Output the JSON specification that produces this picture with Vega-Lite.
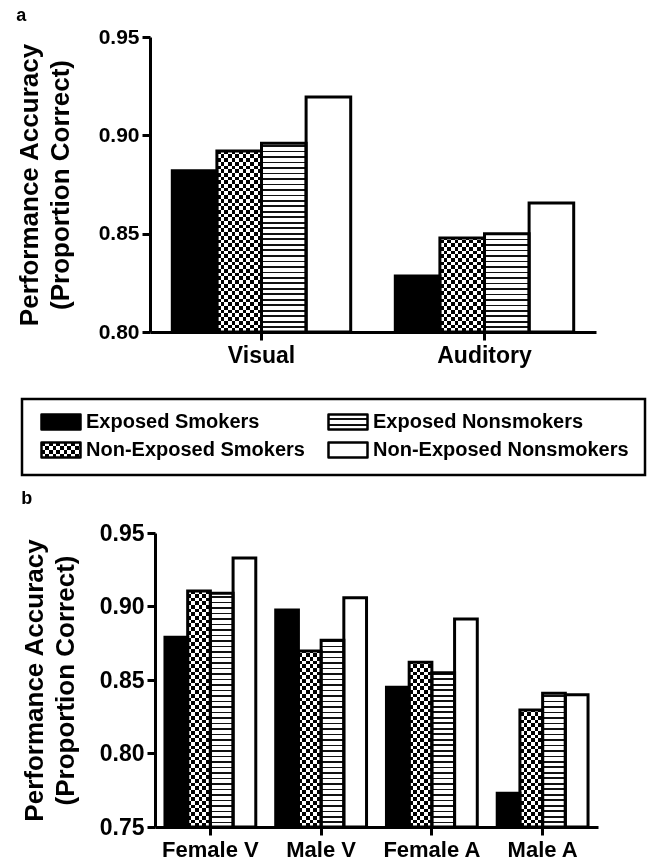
{
"$schema": "https://vega.github.io/schema/vega-lite/v6.json",
"background": "white",
"padding": {"left": 16, "top": 7, "right": 0, "bottom": 0},
"params": [
{"name": "hs", "value": [
{"offset":0,"color":"#fff"},{"offset":0.014,"color":"#fff"},{"offset":0.014,"color":"#111"},{"offset":0.02,"color":"#111"},
{"offset":0.02,"color":"#fff"},{"offset":0.034,"color":"#fff"},{"offset":0.034,"color":"#111"},{"offset":0.04,"color":"#111"},
{"offset":0.04,"color":"#fff"},{"offset":0.054,"color":"#fff"},{"offset":0.054,"color":"#111"},{"offset":0.06,"color":"#111"},
{"offset":0.06,"color":"#fff"},{"offset":0.074,"color":"#fff"},{"offset":0.074,"color":"#111"},{"offset":0.08,"color":"#111"},
{"offset":0.08,"color":"#fff"},{"offset":0.094,"color":"#fff"},{"offset":0.094,"color":"#111"},{"offset":0.1,"color":"#111"},
{"offset":0.1,"color":"#fff"},{"offset":0.114,"color":"#fff"},{"offset":0.114,"color":"#111"},{"offset":0.12,"color":"#111"},
{"offset":0.12,"color":"#fff"},{"offset":0.134,"color":"#fff"},{"offset":0.134,"color":"#111"},{"offset":0.14,"color":"#111"},
{"offset":0.14,"color":"#fff"},{"offset":0.154,"color":"#fff"},{"offset":0.154,"color":"#111"},{"offset":0.16,"color":"#111"},
{"offset":0.16,"color":"#fff"},{"offset":0.174,"color":"#fff"},{"offset":0.174,"color":"#111"},{"offset":0.18,"color":"#111"},
{"offset":0.18,"color":"#fff"},{"offset":0.194,"color":"#fff"},{"offset":0.194,"color":"#111"},{"offset":0.2,"color":"#111"},
{"offset":0.2,"color":"#fff"},{"offset":0.214,"color":"#fff"},{"offset":0.214,"color":"#111"},{"offset":0.22,"color":"#111"},
{"offset":0.22,"color":"#fff"},{"offset":0.234,"color":"#fff"},{"offset":0.234,"color":"#111"},{"offset":0.24,"color":"#111"},
{"offset":0.24,"color":"#fff"},{"offset":0.254,"color":"#fff"},{"offset":0.254,"color":"#111"},{"offset":0.26,"color":"#111"},
{"offset":0.26,"color":"#fff"},{"offset":0.274,"color":"#fff"},{"offset":0.274,"color":"#111"},{"offset":0.28,"color":"#111"},
{"offset":0.28,"color":"#fff"},{"offset":0.294,"color":"#fff"},{"offset":0.294,"color":"#111"},{"offset":0.3,"color":"#111"},
{"offset":0.3,"color":"#fff"},{"offset":0.314,"color":"#fff"},{"offset":0.314,"color":"#111"},{"offset":0.32,"color":"#111"},
{"offset":0.32,"color":"#fff"},{"offset":0.334,"color":"#fff"},{"offset":0.334,"color":"#111"},{"offset":0.34,"color":"#111"},
{"offset":0.34,"color":"#fff"},{"offset":0.354,"color":"#fff"},{"offset":0.354,"color":"#111"},{"offset":0.36,"color":"#111"},
{"offset":0.36,"color":"#fff"},{"offset":0.374,"color":"#fff"},{"offset":0.374,"color":"#111"},{"offset":0.38,"color":"#111"},
{"offset":0.38,"color":"#fff"},{"offset":0.394,"color":"#fff"},{"offset":0.394,"color":"#111"},{"offset":0.4,"color":"#111"},
{"offset":0.4,"color":"#fff"},{"offset":0.414,"color":"#fff"},{"offset":0.414,"color":"#111"},{"offset":0.42,"color":"#111"},
{"offset":0.42,"color":"#fff"},{"offset":0.434,"color":"#fff"},{"offset":0.434,"color":"#111"},{"offset":0.44,"color":"#111"},
{"offset":0.44,"color":"#fff"},{"offset":0.454,"color":"#fff"},{"offset":0.454,"color":"#111"},{"offset":0.46,"color":"#111"},
{"offset":0.46,"color":"#fff"},{"offset":0.474,"color":"#fff"},{"offset":0.474,"color":"#111"},{"offset":0.48,"color":"#111"},
{"offset":0.48,"color":"#fff"},{"offset":0.494,"color":"#fff"},{"offset":0.494,"color":"#111"},{"offset":0.5,"color":"#111"},
{"offset":0.5,"color":"#fff"},{"offset":0.514,"color":"#fff"},{"offset":0.514,"color":"#111"},{"offset":0.52,"color":"#111"},
{"offset":0.52,"color":"#fff"},{"offset":0.534,"color":"#fff"},{"offset":0.534,"color":"#111"},{"offset":0.54,"color":"#111"},
{"offset":0.54,"color":"#fff"},{"offset":0.554,"color":"#fff"},{"offset":0.554,"color":"#111"},{"offset":0.56,"color":"#111"},
{"offset":0.56,"color":"#fff"},{"offset":0.574,"color":"#fff"},{"offset":0.574,"color":"#111"},{"offset":0.58,"color":"#111"},
{"offset":0.58,"color":"#fff"},{"offset":0.594,"color":"#fff"},{"offset":0.594,"color":"#111"},{"offset":0.6,"color":"#111"},
{"offset":0.6,"color":"#fff"},{"offset":0.614,"color":"#fff"},{"offset":0.614,"color":"#111"},{"offset":0.62,"color":"#111"},
{"offset":0.62,"color":"#fff"},{"offset":0.634,"color":"#fff"},{"offset":0.634,"color":"#111"},{"offset":0.64,"color":"#111"},
{"offset":0.64,"color":"#fff"},{"offset":0.654,"color":"#fff"},{"offset":0.654,"color":"#111"},{"offset":0.66,"color":"#111"},
{"offset":0.66,"color":"#fff"},{"offset":0.674,"color":"#fff"},{"offset":0.674,"color":"#111"},{"offset":0.68,"color":"#111"},
{"offset":0.68,"color":"#fff"},{"offset":0.694,"color":"#fff"},{"offset":0.694,"color":"#111"},{"offset":0.7,"color":"#111"},
{"offset":0.7,"color":"#fff"},{"offset":0.714,"color":"#fff"},{"offset":0.714,"color":"#111"},{"offset":0.72,"color":"#111"},
{"offset":0.72,"color":"#fff"},{"offset":0.734,"color":"#fff"},{"offset":0.734,"color":"#111"},{"offset":0.74,"color":"#111"},
{"offset":0.74,"color":"#fff"},{"offset":0.754,"color":"#fff"},{"offset":0.754,"color":"#111"},{"offset":0.76,"color":"#111"},
{"offset":0.76,"color":"#fff"},{"offset":0.774,"color":"#fff"},{"offset":0.774,"color":"#111"},{"offset":0.78,"color":"#111"},
{"offset":0.78,"color":"#fff"},{"offset":0.794,"color":"#fff"},{"offset":0.794,"color":"#111"},{"offset":0.8,"color":"#111"},
{"offset":0.8,"color":"#fff"},{"offset":0.814,"color":"#fff"},{"offset":0.814,"color":"#111"},{"offset":0.82,"color":"#111"},
{"offset":0.82,"color":"#fff"},{"offset":0.834,"color":"#fff"},{"offset":0.834,"color":"#111"},{"offset":0.84,"color":"#111"},
{"offset":0.84,"color":"#fff"},{"offset":0.854,"color":"#fff"},{"offset":0.854,"color":"#111"},{"offset":0.86,"color":"#111"},
{"offset":0.86,"color":"#fff"},{"offset":0.874,"color":"#fff"},{"offset":0.874,"color":"#111"},{"offset":0.88,"color":"#111"},
{"offset":0.88,"color":"#fff"},{"offset":0.894,"color":"#fff"},{"offset":0.894,"color":"#111"},{"offset":0.9,"color":"#111"},
{"offset":0.9,"color":"#fff"},{"offset":0.914,"color":"#fff"},{"offset":0.914,"color":"#111"},{"offset":0.92,"color":"#111"},
{"offset":0.92,"color":"#fff"},{"offset":0.934,"color":"#fff"},{"offset":0.934,"color":"#111"},{"offset":0.94,"color":"#111"},
{"offset":0.94,"color":"#fff"},{"offset":0.954,"color":"#fff"},{"offset":0.954,"color":"#111"},{"offset":0.96,"color":"#111"},
{"offset":0.96,"color":"#fff"},{"offset":0.974,"color":"#fff"},{"offset":0.974,"color":"#111"},{"offset":0.98,"color":"#111"},
{"offset":0.98,"color":"#fff"},{"offset":0.994,"color":"#fff"},{"offset":0.994,"color":"#111"},{"offset":1,"color":"#111"}
]},
{"name": "cs", "value": [
{"offset":0,"color":"#000"},{"offset":0.0125,"color":"#000"},{"offset":0.0125,"color":"#fff"},{"offset":0.025,"color":"#fff"},
{"offset":0.025,"color":"#000"},{"offset":0.0375,"color":"#000"},{"offset":0.0375,"color":"#fff"},{"offset":0.05,"color":"#fff"},
{"offset":0.05,"color":"#000"},{"offset":0.0625,"color":"#000"},{"offset":0.0625,"color":"#fff"},{"offset":0.075,"color":"#fff"},
{"offset":0.075,"color":"#000"},{"offset":0.0875,"color":"#000"},{"offset":0.0875,"color":"#fff"},{"offset":0.1,"color":"#fff"},
{"offset":0.1,"color":"#000"},{"offset":0.1125,"color":"#000"},{"offset":0.1125,"color":"#fff"},{"offset":0.125,"color":"#fff"},
{"offset":0.125,"color":"#000"},{"offset":0.1375,"color":"#000"},{"offset":0.1375,"color":"#fff"},{"offset":0.15,"color":"#fff"},
{"offset":0.15,"color":"#000"},{"offset":0.1625,"color":"#000"},{"offset":0.1625,"color":"#fff"},{"offset":0.175,"color":"#fff"},
{"offset":0.175,"color":"#000"},{"offset":0.1875,"color":"#000"},{"offset":0.1875,"color":"#fff"},{"offset":0.2,"color":"#fff"},
{"offset":0.2,"color":"#000"},{"offset":0.2125,"color":"#000"},{"offset":0.2125,"color":"#fff"},{"offset":0.225,"color":"#fff"},
{"offset":0.225,"color":"#000"},{"offset":0.2375,"color":"#000"},{"offset":0.2375,"color":"#fff"},{"offset":0.25,"color":"#fff"},
{"offset":0.25,"color":"#000"},{"offset":0.2625,"color":"#000"},{"offset":0.2625,"color":"#fff"},{"offset":0.275,"color":"#fff"},
{"offset":0.275,"color":"#000"},{"offset":0.2875,"color":"#000"},{"offset":0.2875,"color":"#fff"},{"offset":0.3,"color":"#fff"},
{"offset":0.3,"color":"#000"},{"offset":0.3125,"color":"#000"},{"offset":0.3125,"color":"#fff"},{"offset":0.325,"color":"#fff"},
{"offset":0.325,"color":"#000"},{"offset":0.3375,"color":"#000"},{"offset":0.3375,"color":"#fff"},{"offset":0.35,"color":"#fff"},
{"offset":0.35,"color":"#000"},{"offset":0.3625,"color":"#000"},{"offset":0.3625,"color":"#fff"},{"offset":0.375,"color":"#fff"},
{"offset":0.375,"color":"#000"},{"offset":0.3875,"color":"#000"},{"offset":0.3875,"color":"#fff"},{"offset":0.4,"color":"#fff"},
{"offset":0.4,"color":"#000"},{"offset":0.4125,"color":"#000"},{"offset":0.4125,"color":"#fff"},{"offset":0.425,"color":"#fff"},
{"offset":0.425,"color":"#000"},{"offset":0.4375,"color":"#000"},{"offset":0.4375,"color":"#fff"},{"offset":0.45,"color":"#fff"},
{"offset":0.45,"color":"#000"},{"offset":0.4625,"color":"#000"},{"offset":0.4625,"color":"#fff"},{"offset":0.475,"color":"#fff"},
{"offset":0.475,"color":"#000"},{"offset":0.4875,"color":"#000"},{"offset":0.4875,"color":"#fff"},{"offset":0.5,"color":"#fff"},
{"offset":0.5,"color":"#000"},{"offset":0.5125,"color":"#000"},{"offset":0.5125,"color":"#fff"},{"offset":0.525,"color":"#fff"},
{"offset":0.525,"color":"#000"},{"offset":0.5375,"color":"#000"},{"offset":0.5375,"color":"#fff"},{"offset":0.55,"color":"#fff"},
{"offset":0.55,"color":"#000"},{"offset":0.5625,"color":"#000"},{"offset":0.5625,"color":"#fff"},{"offset":0.575,"color":"#fff"},
{"offset":0.575,"color":"#000"},{"offset":0.5875,"color":"#000"},{"offset":0.5875,"color":"#fff"},{"offset":0.6,"color":"#fff"},
{"offset":0.6,"color":"#000"},{"offset":0.6125,"color":"#000"},{"offset":0.6125,"color":"#fff"},{"offset":0.625,"color":"#fff"},
{"offset":0.625,"color":"#000"},{"offset":0.6375,"color":"#000"},{"offset":0.6375,"color":"#fff"},{"offset":0.65,"color":"#fff"},
{"offset":0.65,"color":"#000"},{"offset":0.6625,"color":"#000"},{"offset":0.6625,"color":"#fff"},{"offset":0.675,"color":"#fff"},
{"offset":0.675,"color":"#000"},{"offset":0.6875,"color":"#000"},{"offset":0.6875,"color":"#fff"},{"offset":0.7,"color":"#fff"},
{"offset":0.7,"color":"#000"},{"offset":0.7125,"color":"#000"},{"offset":0.7125,"color":"#fff"},{"offset":0.725,"color":"#fff"},
{"offset":0.725,"color":"#000"},{"offset":0.7375,"color":"#000"},{"offset":0.7375,"color":"#fff"},{"offset":0.75,"color":"#fff"},
{"offset":0.75,"color":"#000"},{"offset":0.7625,"color":"#000"},{"offset":0.7625,"color":"#fff"},{"offset":0.775,"color":"#fff"},
{"offset":0.775,"color":"#000"},{"offset":0.7875,"color":"#000"},{"offset":0.7875,"color":"#fff"},{"offset":0.8,"color":"#fff"},
{"offset":0.8,"color":"#000"},{"offset":0.8125,"color":"#000"},{"offset":0.8125,"color":"#fff"},{"offset":0.825,"color":"#fff"},
{"offset":0.825,"color":"#000"},{"offset":0.8375,"color":"#000"},{"offset":0.8375,"color":"#fff"},{"offset":0.85,"color":"#fff"},
{"offset":0.85,"color":"#000"},{"offset":0.8625,"color":"#000"},{"offset":0.8625,"color":"#fff"},{"offset":0.875,"color":"#fff"},
{"offset":0.875,"color":"#000"},{"offset":0.8875,"color":"#000"},{"offset":0.8875,"color":"#fff"},{"offset":0.9,"color":"#fff"},
{"offset":0.9,"color":"#000"},{"offset":0.9125,"color":"#000"},{"offset":0.9125,"color":"#fff"},{"offset":0.925,"color":"#fff"},
{"offset":0.925,"color":"#000"},{"offset":0.9375,"color":"#000"},{"offset":0.9375,"color":"#fff"},{"offset":0.95,"color":"#fff"},
{"offset":0.95,"color":"#000"},{"offset":0.9625,"color":"#000"},{"offset":0.9625,"color":"#fff"},{"offset":0.975,"color":"#fff"},
{"offset":0.975,"color":"#000"},{"offset":0.9875,"color":"#000"},{"offset":0.9875,"color":"#fff"},{"offset":1,"color":"#fff"}
]}
],
"datasets": {
"A": [
{"cond":"Visual","group":"Exposed Smokers","acc":0.882},
{"cond":"Visual","group":"Non-Exposed Smokers","acc":0.892},
{"cond":"Visual","group":"Exposed Nonsmokers","acc":0.896},
{"cond":"Visual","group":"Non-Exposed Nonsmokers","acc":0.9195},
{"cond":"Auditory","group":"Exposed Smokers","acc":0.8285},
{"cond":"Auditory","group":"Non-Exposed Smokers","acc":0.8478},
{"cond":"Auditory","group":"Exposed Nonsmokers","acc":0.850},
{"cond":"Auditory","group":"Non-Exposed Nonsmokers","acc":0.8656}
],
"B": [
{"cond":"Female V","group":"Exposed Smokers","acc":0.879},
{"cond":"Female V","group":"Non-Exposed Smokers","acc":0.9105},
{"cond":"Female V","group":"Exposed Nonsmokers","acc":0.909},
{"cond":"Female V","group":"Non-Exposed Nonsmokers","acc":0.933},
{"cond":"Male V","group":"Exposed Smokers","acc":0.8976},
{"cond":"Male V","group":"Non-Exposed Smokers","acc":0.8697},
{"cond":"Male V","group":"Exposed Nonsmokers","acc":0.877},
{"cond":"Male V","group":"Non-Exposed Nonsmokers","acc":0.906},
{"cond":"Female A","group":"Exposed Smokers","acc":0.845},
{"cond":"Female A","group":"Non-Exposed Smokers","acc":0.862},
{"cond":"Female A","group":"Exposed Nonsmokers","acc":0.855},
{"cond":"Female A","group":"Non-Exposed Nonsmokers","acc":0.8915},
{"cond":"Male A","group":"Exposed Smokers","acc":0.773},
{"cond":"Male A","group":"Non-Exposed Smokers","acc":0.8296},
{"cond":"Male A","group":"Exposed Nonsmokers","acc":0.841},
{"cond":"Male A","group":"Non-Exposed Nonsmokers","acc":0.840}
],
"L": [
{"group":"Exposed Smokers","smoke":"Smokers","exposure":"Exposed"},
{"group":"Non-Exposed Smokers","smoke":"Smokers","exposure":"Non-Exposed"},
{"group":"Exposed Nonsmokers","smoke":"Nonsmokers","exposure":"Exposed"},
{"group":"Non-Exposed Nonsmokers","smoke":"Nonsmokers","exposure":"Non-Exposed"}
]
},
"config": {
"font": "Liberation Sans",
"view": {"stroke": null},
"axis": {"domainColor":"black","domainWidth":3,"tickColor":"black","tickWidth":3,"tickSize":8,"labelColor":"black","labelFont":"Liberation Sans","labelFontWeight":"bold","titleColor":"black","titleFont":"Liberation Sans","titleFontWeight":"bold","grid":false},
"title": {"font":"Liberation Sans","fontWeight":"bold","color":"black","anchor":"start","frame":"bounds","fontSize":18}
},
"columns": 1,
"spacing": 13,
"resolve": {"scale": {"x":"independent","y":"independent","xOffset":"independent"}},
"concat": [
{"columns": 1, "spacing": 30,
 "resolve": {"scale": {"x":"independent","y":"independent","xOffset":"independent"}},
 "concat": [
{
"title": {"text": "a", "offset": 1},
"width": 574, "height": 295,
"data": {"name": "A"},
"encoding": {
"x": {"field":"cond","type":"nominal","sort":["Visual","Auditory"],"scale":{"range":[128,574],"paddingInner":0.2,"paddingOuter":0.1},"axis":{"title":null,"labelAngle":0,"labelFontSize":23,"labelPadding":4}},
"xOffset": {"field":"group","type":"nominal","sort":["Exposed Smokers","Non-Exposed Smokers","Exposed Nonsmokers","Non-Exposed Nonsmokers"],"scale":{"paddingInner":0,"paddingOuter":0}},
"y": {"field":"acc","type":"quantitative","stack":null,"scale":{"domain":[0.8,0.95],"zero":false,"nice":false},"axis":{"offset":-128,"values":[0.8,0.85,0.9,0.95],"format":".2f","labelFontSize":21,"labelPadding":3,"titleFontSize":26,"titleLineHeight":31,"titlePadding":25,"title":["Performance Accuracy","(Proportion Correct)"]}},
"y2": {"datum": 0.8}
},
"layer": [
{"mark": {"type":"bar","strokeWidth":0,"fill":{"expr":"datum.group === 'Exposed Smokers' ? '#000' : datum.group === 'Exposed Nonsmokers' ? {gradient: 'linear', x1: 0, x2: 0, y1: 1, y2: 1 - 275 / ((datum.acc - 0.8) / 0.15 * 295), stops: hs} : datum.group === 'Non-Exposed Smokers' ? {gradient: 'linear', x1: 0, x2: 0, y1: 1, y2: 1 - 296 / ((datum.acc - 0.8) / 0.15 * 295), stops: cs} : '#fff'"}}},
{"transform":[{"filter":"datum.group === 'Non-Exposed Smokers'"}],
 "mark": {"type":"bar","strokeWidth":0,"blend":"difference","fill":{"expr":"{gradient: 'linear', x1: 0, x2: 296 / 44.6, y1: 0, y2: 0, stops: cs}"}}},
{"mark": {"type":"bar","fill":"white","fillOpacity":0,"stroke":"black","strokeWidth":3}}
]
},
{
"width": 623, "height": 76,
"view": {"stroke": "black", "strokeWidth": 2.5, "fill": "white"},
"data": {"name": "L"},
"encoding": {
"x": {"field":"smoke","type":"nominal","scale":{"type":"point","domain":["Smokers","Nonsmokers"],"range":[39,326],"padding":0},"axis":null},
"y": {"field":"exposure","type":"nominal","scale":{"type":"point","domain":["Exposed","Non-Exposed"],"range":[23,51],"padding":0},"axis":null}
},
"layer": [
{"mark": {"type":"point","shape":"M-1,-0.385H1V0.385H-1Z","size":1521,"filled":true,"opacity":1,"strokeWidth":0,"fill":{"expr":"datum.group === 'Exposed Smokers' ? '#000' : datum.group === 'Exposed Nonsmokers' ? {gradient: 'linear', x1: 0, x2: 0, y1: 0, y2: 275 / 15, stops: hs} : datum.group === 'Non-Exposed Smokers' ? {gradient: 'linear', x1: 0, x2: 0, y1: 0, y2: 296 / 15, stops: cs} : '#fff'"}}},
{"transform":[{"filter":"datum.group === 'Non-Exposed Smokers'"}],
 "mark": {"type":"point","shape":"M-1,-0.385H1V0.385H-1Z","size":1521,"filled":true,"opacity":1,"strokeWidth":0,"blend":"difference","fill":{"expr":"{gradient: 'linear', x1: 0, x2: 296 / 39, y1: 0, y2: 0, stops: cs}"}}},
{"mark": {"type":"point","shape":"M-1,-0.385H1V0.385H-1Z","size":1521,"filled":false,"opacity":1,"stroke":"black","strokeWidth":2.5,"strokeJoin":"round"}},
{"mark": {"type":"text","align":"left","baseline":"middle","dx":25,"fontSize":20,"fontWeight":"bold","font":"Liberation Sans","color":"black"},
 "encoding": {"text": {"field":"group","type":"nominal"}}}
]
}
]},
{
"title": {"text": "b", "offset": 14},
"width": 576, "height": 294,
"data": {"name": "B"},
"encoding": {
"x": {"field":"cond","type":"nominal","sort":["Female V","Male V","Female A","Male A"],"scale":{"range":[133,576],"paddingInner":0.18,"paddingOuter":0.09},"axis":{"title":null,"labelAngle":0,"labelFontSize":22,"labelPadding":4}},
"xOffset": {"field":"group","type":"nominal","sort":["Exposed Smokers","Non-Exposed Smokers","Exposed Nonsmokers","Non-Exposed Nonsmokers"],"scale":{"paddingInner":0,"paddingOuter":0}},
"y": {"field":"acc","type":"quantitative","stack":null,"scale":{"domain":[0.75,0.95],"zero":false,"nice":false},"axis":{"offset":-133,"values":[0.75,0.8,0.85,0.9,0.95],"format":".2f","labelFontSize":23,"labelPadding":3,"titleFontSize":26,"titleLineHeight":31,"titlePadding":21,"title":["Performance Accuracy","(Proportion Correct)"]}},
"y2": {"datum": 0.75}
},
"layer": [
{"mark": {"type":"bar","strokeWidth":0,"fill":{"expr":"datum.group === 'Exposed Smokers' ? '#000' : datum.group === 'Exposed Nonsmokers' ? {gradient: 'linear', x1: 0, x2: 0, y1: 1, y2: 1 - 275 / ((datum.acc - 0.75) / 0.2 * 294), stops: hs} : datum.group === 'Non-Exposed Smokers' ? {gradient: 'linear', x1: 0, x2: 0, y1: 1, y2: 1 - 296 / ((datum.acc - 0.75) / 0.2 * 294), stops: cs} : '#fff'"}}},
{"transform":[{"filter":"datum.group === 'Non-Exposed Smokers'"}],
 "mark": {"type":"bar","strokeWidth":0,"blend":"difference","fill":{"expr":"{gradient: 'linear', x1: 0, x2: 296 / 22.7, y1: 0, y2: 0, stops: cs}"}}},
{"mark": {"type":"bar","fill":"white","fillOpacity":0,"stroke":"black","strokeWidth":3}}
]
}
]
}
